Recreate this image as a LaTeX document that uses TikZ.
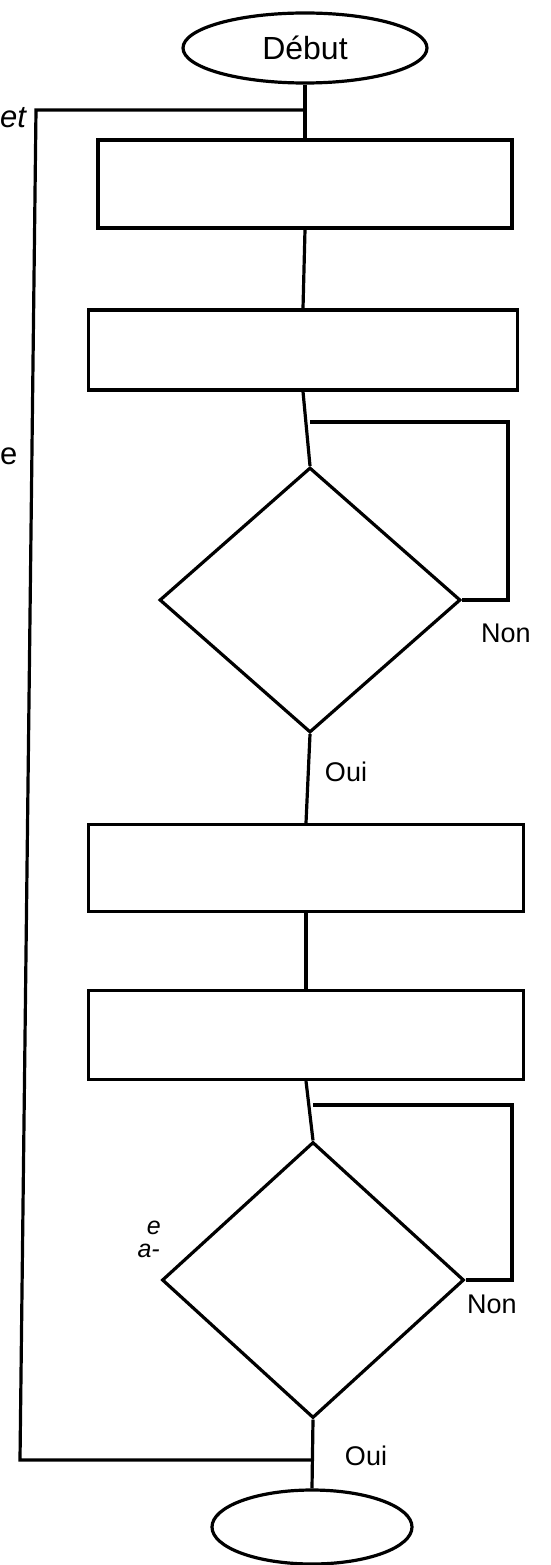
\documentclass[tikz,border=0pt]{standalone}
\usepackage{fontspec}
\setmainfont{Liberation Sans}
\usetikzlibrary{shapes.geometric}
\begin{document}
\begin{tikzpicture}[x=1pt,y=-1pt,
  every node/.style={font=\fontsize{27}{30}\selectfont},
  flow/.style={line width=3.2pt, line join=miter},
  term/.style={flow, draw, ellipse, inner sep=0pt},
  stepbox/.style={flow, draw, rectangle, inner sep=0pt},
  test/.style={flow, draw, diamond, inner sep=0pt},
  lbl/.style={inner sep=0pt},
  frag/.style={inner sep=0pt, font=\itshape\fontsize{31}{33}\selectfont},
  smallfrag/.style={inner sep=0pt, font=\itshape\fontsize{25}{26}\selectfont}]
\useasboundingbox (0,0) rectangle (551,1565);

% terminals, process boxes and tests
\node[term, minimum width=244pt, minimum height=70pt,
      font=\fontsize{32}{34}\selectfont] (debut) at (305,48) {Début};
\node[stepbox, minimum width=414pt, minimum height=88pt] (b1) at (305,184) {};
\node[stepbox, minimum width=429pt, minimum height=80pt] (b2) at (303,350) {};
\node[test, minimum width=301pt, minimum height=265pt] (d1) at (310,600) {};
\node[stepbox, minimum width=435pt, minimum height=87pt] (b3) at (306,868) {};
\node[stepbox, minimum width=435pt, minimum height=89pt] (b4) at (306,1035) {};
\node[test, minimum width=302pt, minimum height=276pt] (d2) at (313,1280) {};
\node[term, minimum width=200pt, minimum height=74pt] (fin) at (312,1527) {};

% loop corners
\coordinate (r1) at (508,422);
\coordinate (r2) at (512,1105);
\coordinate (tl) at (36,110);
\coordinate (bl) at (20,1460);
\coordinate (j1) at (debut.south |- tl);
\coordinate (j4) at (d2.south |- bl);

% main flow
\draw[flow] (debut.south) -- (b1.north);
\draw[flow] (b1.south) -- (b2.north);
\draw[flow] (b2.south) -- (d1.north);
\draw[flow] (d1.south) -- (b3.north);
\draw[flow] (b3.south) -- (b4.north);
\draw[flow] (b4.south) -- (d2.north);
\draw[flow] (d2.south) -- (fin.north);

% "Non" loops back above each test
\draw[flow] (d1.east) -| (r1) -- (d1.north |- r1);
\draw[flow] (d2.east) -| (r2) -- (d2.north |- r2);

% outer loop back to the start
\draw[flow] (j4) -- (bl) -- (tl) -- (j1);

% branch labels
\node[lbl] (non1) at (506,633) {Non};
\node[lbl] (oui1) at (346,772) {Oui};
\node[lbl] (non2) at (492,1304) {Non};
\node[lbl] (oui2) at (366,1456) {Oui};

% cut-off words at the left edge
\node[frag, anchor=west] (w1) at (0,118) {et};
\node[lbl, anchor=west, font=\fontsize{31}{33}\selectfont] (w2) at (0,456) {e};
\node[smallfrag, anchor=east] (w3) at (161,1228) {e};
\node[smallfrag, anchor=east] (w4) at (160,1251) {a-};
\end{tikzpicture}
\end{document}
